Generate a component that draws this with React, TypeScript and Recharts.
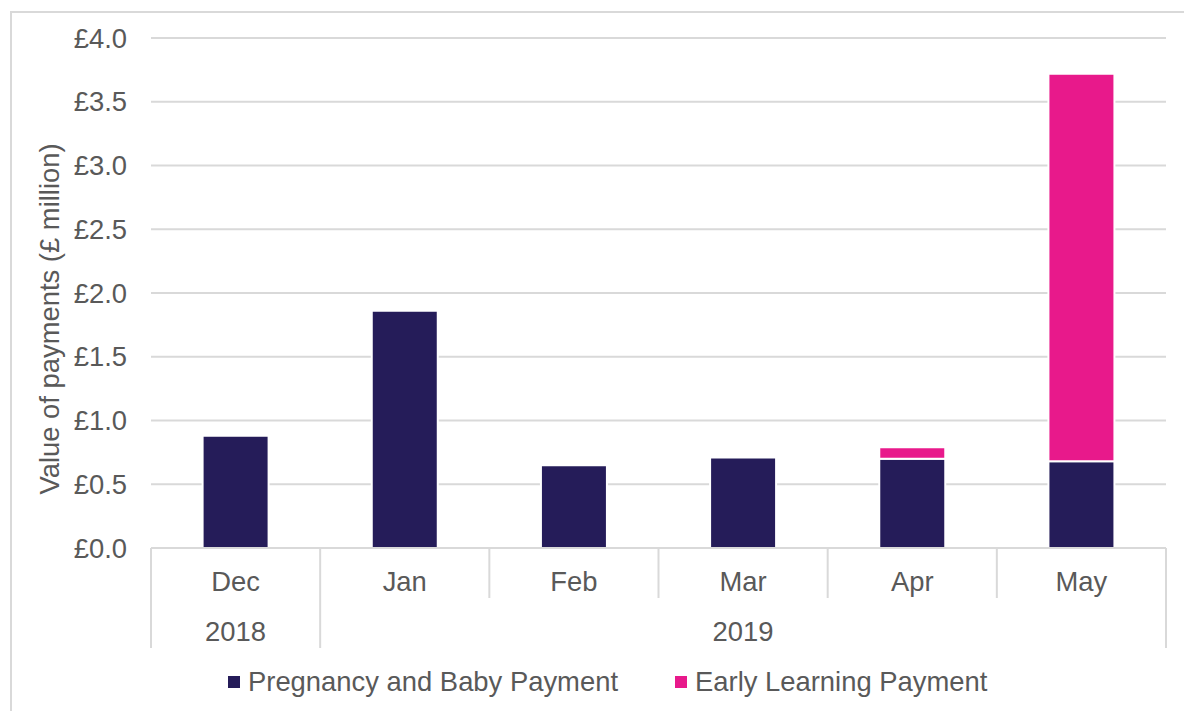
import { BarChart, Bar, XAxis, YAxis, CartesianGrid, Legend, Label } from 'recharts';

const months = ['Dec', 'Jan', 'Feb', 'Mar', 'Apr', 'May'];
const years = ['2018', '2019', '2019', '2019', '2019', '2019'];
const pregnancyBaby = [0.88, 1.86, 0.65, 0.71, 0.7, 0.68];
const earlyLearning = [0, 0, 0, 0, 0.09, 3.04];
const yTicks = [0, 0.5, 1, 1.5, 2, 2.5, 3, 3.5, 4];

const NAVY = '#251c59';
const PINK = '#e8198b';
const GRID = '#d9d9d9';
const TEXT = '#595959';
const FONT = '"Liberation Sans", Arial, sans-serif';
const FS = 27.4;

const data = months.map((m, i) => ({
  month: m,
  year: years[i],
  pbp: pregnancyBaby[i],
  elp: earlyLearning[i],
}));

const isYearStart = (i: number) => i === 0 || years[i] !== years[i - 1];

function MonthTick(props: any) {
  const { x, y, payload, index } = props;
  const half = payload?.offset ?? 84.6;
  const last = index === months.length - 1;
  return (
    <g>
      <line
        x1={x - half}
        x2={x - half}
        y1={y}
        y2={y + (isYearStart(index) ? 100 : 50)}
        stroke={GRID}
        strokeWidth={2}
      />
      {last && (
        <line x1={x + half} x2={x + half} y1={y} y2={y + 100} stroke={GRID} strokeWidth={2} />
      )}
      <text x={x} y={y + 43} textAnchor="middle" fill={TEXT} fontSize={FS} fontFamily={FONT}>
        {payload.value}
      </text>
    </g>
  );
}

function YearTick(props: any) {
  const { x, y, payload, index } = props;
  if (!isYearStart(index)) return null;
  const half = payload?.offset ?? 84.6;
  let count = 1;
  while (index + count < years.length && years[index + count] === years[index]) count++;
  return (
    <text
      x={x + (count - 1) * half}
      y={y + 43}
      textAnchor="middle"
      fill={TEXT}
      fontSize={FS}
      fontFamily={FONT}
    >
      {years[index]}
    </text>
  );
}

function YTitle(props: any) {
  const { x, y, height } = props.viewBox;
  const cx = x + 49;
  const cy = y + height / 2 + 26;
  return (
    <text
      x={cx}
      y={cy}
      transform={`rotate(-90 ${cx} ${cy})`}
      textAnchor="middle"
      dominantBaseline="central"
      fill={TEXT}
      fontSize={FS}
      fontFamily={FONT}
    >
      Value of payments (£ million)
    </text>
  );
}

function LegendContent() {
  const items = [
    { name: 'Pregnancy and Baby Payment', color: NAVY },
    { name: 'Early Learning Payment', color: PINK },
  ];
  return (
    <div
      style={{
        height: 45,
        boxSizing: 'border-box',
        paddingTop: 22,
        paddingLeft: 228,
        display: 'flex',
        alignItems: 'center',
        fontFamily: FONT,
        fontSize: FS,
        color: TEXT,
      }}
    >
      {items.map((it, i) => (
        <div key={it.name} style={{ display: 'flex', alignItems: 'center', marginRight: i === 0 ? 57 : 0 }}>
          <span style={{ width: 12, height: 12, background: it.color, marginRight: 8, display: 'inline-block' }} />
          <span style={{ lineHeight: '23px' }}>{it.name}</span>
        </div>
      ))}
    </div>
  );
}

export default function App() {
  return (
    <div
      style={{
        position: 'fixed',
        left: 0,
        top: 0,
        width: 1184,
        height: 711,
        overflow: 'hidden',
        background: '#fff',
      }}
    >
      <div
        style={{
          position: 'absolute',
          left: 10,
          top: 11,
          width: 1300,
          height: 800,
          borderLeft: `2px solid ${GRID}`,
          borderTop: `2px solid ${GRID}`,
        }}
      />
      <div style={{ position: 'absolute', left: 0, top: 0 }}>
        <BarChart
          width={1184}
          height={711}
          data={data}
          margin={{ top: 38, right: 18, left: 0, bottom: 18 }}
          barCategoryGap="30.5%"
        >
          <CartesianGrid vertical={false} stroke={GRID} strokeWidth={2} />
          <XAxis
            xAxisId="month"
            dataKey="month"
            height={50}
            interval={0}
            axisLine={{ stroke: GRID, strokeWidth: 2 }}
            tickLine={false}
            tickSize={0}
            tickMargin={0}
            tick={<MonthTick />}
          />
          <XAxis
            xAxisId="year"
            dataKey="year"
            height={50}
            interval={0}
            axisLine={false}
            tickLine={false}
            tickSize={0}
            tickMargin={0}
            tick={<YearTick />}
          />
          <YAxis
            width={151}
            domain={[0, 4]}
            ticks={yTicks}
            interval={0}
            axisLine={false}
            tickLine={false}
            tickSize={0}
            tickMargin={24}
            tick={{ fill: TEXT, fontSize: FS, fontFamily: FONT }}
            tickFormatter={(v: number) => `£${v.toFixed(1)}`}
          >
            <Label content={<YTitle />} />
          </YAxis>
          <Legend verticalAlign="bottom" content={<LegendContent />} />
          <Bar
            xAxisId="month"
            dataKey="pbp"
            name="Pregnancy and Baby Payment"
            stackId="a"
            fill={NAVY}
            stroke="#fff"
            strokeWidth={2}
            isAnimationActive={false}
          />
          <Bar
            xAxisId="month"
            dataKey="elp"
            name="Early Learning Payment"
            stackId="a"
            fill={PINK}
            stroke="#fff"
            strokeWidth={2}
            isAnimationActive={false}
          />
        </BarChart>
      </div>
    </div>
  );
}
